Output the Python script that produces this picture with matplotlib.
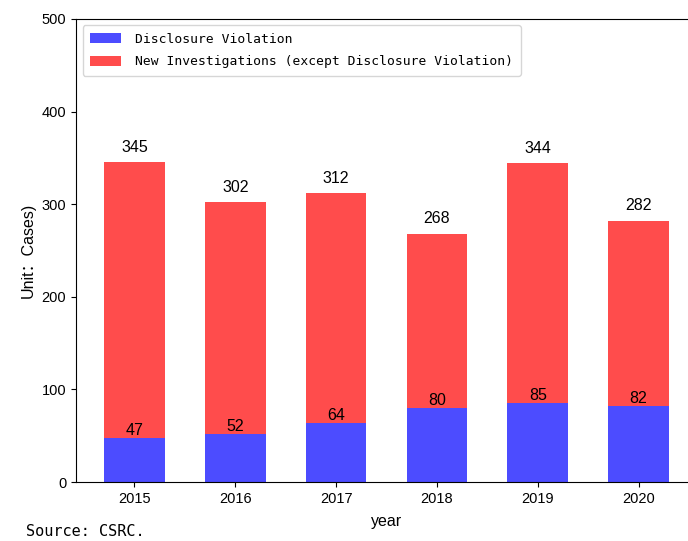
import matplotlib
matplotlib.use("Agg")
import matplotlib.pyplot as plt

years = ["2015", "2016", "2017", "2018", "2019", "2020"]
disclosure = [47, 52, 64, 80, 85, 82]
totals = [345, 302, 312, 268, 344, 282]
others = [t - d for t, d in zip(totals, disclosure)]

num_font = ["Liberation Sans", "DejaVu Sans"]
lab_font = ["Liberation Sans", "Noto Sans CJK SC", "DejaVu Sans"]
mono = ["DejaVu Sans Mono", "Noto Sans CJK SC"]

fig = plt.figure(figsize=(6.88, 5.41), dpi=100)
ax = fig.add_axes([0.1105, 0.109, 0.9026, 0.856])

x = list(range(len(years)))
ax.bar(x, disclosure, width=0.6, color="blue", alpha=0.7, label="Disclosure Violation")
ax.bar(x, others, width=0.6, bottom=disclosure, color="red", alpha=0.7,
       label="New Investigations (except Disclosure Violation)")

for xi, d, t in zip(x, disclosure, totals):
    ax.text(xi, d, str(d), ha="center", va="bottom", fontsize=11.5, family=num_font)
    ax.text(xi, t + 8, str(t), ha="center", va="bottom", fontsize=11.5, family=num_font)

ax.set_ylim(0, 500)
ax.set_xticks(x)
ax.set_xticklabels(years, family=num_font, fontsize=10.5)
for lab in ax.get_yticklabels():
    lab.set_family(num_font)
    lab.set_fontsize(10.5)
ax.set_xlabel("year", family=num_font, fontsize=11.5, labelpad=6)
ax.set_ylabel("Unit：Cases)", family=lab_font, fontsize=11.5)
ax.legend(loc="upper left", prop={"family": mono, "size": 9.4},
          handlelength=2.4, handleheight=0.8, labelspacing=0.75,
          borderpad=0.55, handletextpad=1.1)
fig.text(26 / 688, 1 - 532 / 541, "Source: CSRC.", family=mono, fontsize=11, va="center")

fig.savefig("out.png", dpi=100)
